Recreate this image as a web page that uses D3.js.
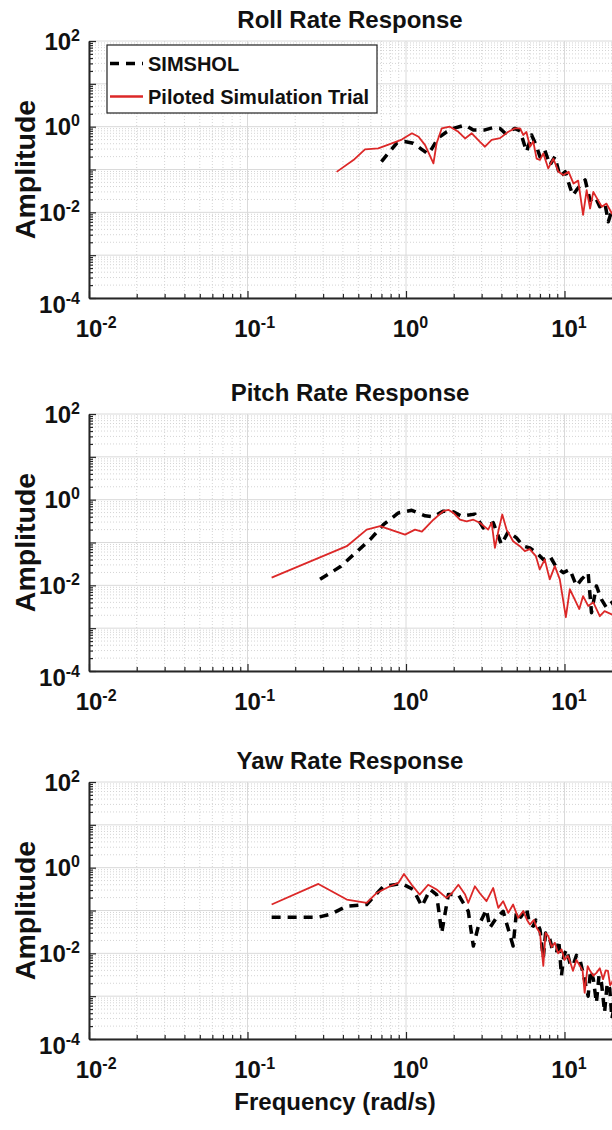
<!DOCTYPE html>
<html>
<head>
<meta charset="utf-8">
<script src="https://cdn.jsdelivr.net/npm/d3@7/dist/d3.min.js"></script>
<style>
  body { margin: 0; background: #fff; }
  svg { display: block; }
  text { font-family: "Liberation Sans", Arial, Helvetica, sans-serif; font-weight: bold; fill: #111; }
</style>
</head>
<body>
<svg id="chart" width="612" height="1130"></svg>
<script>
// ---- data: amplitude spectra (frequency in rad/s) ----
const panelTitles = ["Roll Rate Response", "Pitch Rate Response", "Yaw Rate Response"];
const seriesNames = ["SIMSHOL", "Piloted Simulation Trial"];

const rollSimFreq = [0.70, 0.80, 0.873, 0.98, 1.11, 1.25, 1.38, 1.45, 1.60, 1.81, 1.99, 2.36, 2.66, 3.15, 3.55, 3.92, 4.22, 4.87, 5.24, 5.77, 6.2, 6.6, 7.0, 7.5, 8.1, 8.7, 9.37, 10.1, 10.8, 11.3, 11.9, 12.7, 13.5, 14.5, 15.6, 16.7, 18.0, 18.9, 19.9, 21];
const rollSimAmp  = [0.152, 0.28, 0.41, 0.45, 0.41, 0.30, 0.23, 0.30, 0.55, 0.76, 0.91, 1.09, 0.84, 0.84, 0.95, 0.91, 0.70, 0.91, 0.80, 0.26, 0.64, 0.38, 0.20, 0.285, 0.127, 0.20, 0.068, 0.089, 0.040, 0.025, 0.033, 0.045, 0.057, 0.019, 0.023, 0.0135, 0.016, 0.006, 0.0113, 0.008];
const rollPilotFreq = [0.365, 0.466, 0.551, 0.668, 0.83, 0.94, 1.09, 1.20, 1.32, 1.49, 1.56, 1.68, 1.89, 2.14, 2.36, 2.6, 2.93, 3.15, 3.47, 3.92, 4.42, 4.87, 5.24, 5.5, 5.75, 6.06, 6.35, 6.67, 7.0, 7.35, 7.9, 8.5, 9.15, 9.84, 10.6, 11.4, 12.2, 13.1, 13.8, 14.5, 15.2, 16.3, 17.2, 18.4, 19.9, 21];
const rollPilotAmp  = [0.088, 0.166, 0.295, 0.31, 0.42, 0.50, 0.70, 0.58, 0.37, 0.139, 0.41, 0.91, 1.0, 0.76, 0.53, 0.70, 0.44, 0.34, 0.49, 0.54, 0.76, 0.91, 0.91, 0.64, 0.75, 0.34, 0.45, 0.18, 0.167, 0.238, 0.106, 0.18, 0.089, 0.074, 0.089, 0.047, 0.055, 0.0087, 0.033, 0.0123, 0.03, 0.019, 0.0135, 0.016, 0.0094, 0.008];

const pitchSimFreq = [0.287, 0.384, 0.593, 0.72, 0.895, 1.086, 1.32, 1.49, 1.72, 1.99, 2.24, 2.72, 3.07, 3.55, 4.0, 4.42, 4.98, 5.5, 6.05, 6.67, 7.35, 8.09, 8.91, 9.82, 10.8, 11.9, 12.8, 14.1, 14.8, 15.9, 17.1, 18.4, 19.9, 21];
const pitchSimAmp  = [0.0138, 0.027, 0.117, 0.26, 0.49, 0.565, 0.42, 0.40, 0.54, 0.52, 0.41, 0.46, 0.22, 0.29, 0.09, 0.18, 0.128, 0.082, 0.075, 0.0575, 0.040, 0.048, 0.026, 0.0197, 0.0235, 0.0097, 0.0138, 0.0197, 0.0023, 0.0097, 0.0047, 0.003, 0.004, 0.003];
const pitchPilotFreq = [0.142, 0.423, 0.565, 0.686, 0.986, 1.14, 1.26, 1.49, 1.72, 1.85, 1.99, 2.19, 2.41, 2.66, 2.92, 3.30, 3.47, 3.64, 3.82, 4.05, 4.31, 4.74, 5.23, 5.62, 6.03, 6.6, 6.98, 7.5, 8.07, 8.69, 9.34, 10.2, 10.8, 11.6, 12.4, 13.1, 14.1, 15.2, 16.7, 17.9, 19.9, 21];
const pitchPilotAmp  = [0.0151, 0.082, 0.2, 0.24, 0.153, 0.2, 0.18, 0.34, 0.54, 0.58, 0.49, 0.34, 0.31, 0.34, 0.29, 0.20, 0.29, 0.075, 0.18, 0.45, 0.20, 0.107, 0.082, 0.063, 0.07, 0.048, 0.0235, 0.040, 0.0138, 0.028, 0.0138, 0.0018, 0.0081, 0.0047, 0.0028, 0.0056, 0.0033, 0.004, 0.0019, 0.0025, 0.0021, 0.002];

const yawSimFreq = [0.142, 0.28, 0.332, 0.423, 0.565, 0.72, 0.94, 1.11, 1.26, 1.42, 1.56, 1.68, 1.85, 2.14, 2.47, 2.66, 2.86, 3.22, 3.38, 3.72, 4.1, 4.74, 4.98, 5.3, 5.76, 6.0, 6.35, 6.6, 7.0, 7.35, 7.6, 8.09, 8.4, 8.91, 9.2, 9.57, 9.9, 10.3, 10.8, 11.3, 11.9, 12.5, 13.2, 14.1, 14.6, 15.2, 15.9, 16.5, 17.1, 17.9, 18.6, 19.3, 19.9, 21];
const yawSimAmp  = [0.070, 0.070, 0.081, 0.126, 0.138, 0.368, 0.425, 0.31, 0.126, 0.31, 0.235, 0.030, 0.235, 0.235, 0.096, 0.0148, 0.043, 0.105, 0.0395, 0.0675, 0.096, 0.0148, 0.096, 0.07, 0.115, 0.05, 0.043, 0.06, 0.036, 0.0079, 0.03, 0.021, 0.012, 0.0104, 0.02, 0.003, 0.009, 0.0124, 0.006, 0.0051, 0.009, 0.0073, 0.003, 0.001, 0.004, 0.0025, 0.0007, 0.003, 0.0021, 0.00042, 0.002, 0.0015, 0.0003, 0.0008];
const yawPilotFreq = [0.142, 0.28, 0.423, 0.565, 0.653, 0.792, 0.895, 0.971, 1.086, 1.22, 1.38, 1.56, 1.80, 1.94, 2.14, 2.36, 2.47, 2.72, 2.93, 3.22, 3.55, 3.82, 4.1, 4.42, 4.74, 5.1, 5.5, 5.8, 6.05, 6.4, 6.67, 7.0, 7.35, 7.6, 7.9, 8.3, 8.69, 9.1, 9.57, 10.0, 10.5, 10.9, 11.3, 11.9, 12.5, 13.0, 13.4, 14.0, 14.5, 15.2, 15.9, 16.7, 17.5, 18.2, 18.8, 19.4, 19.9, 21];
const yawPilotAmp  = [0.138, 0.417, 0.18, 0.151, 0.257, 0.368, 0.44, 0.71, 0.40, 0.235, 0.40, 0.31, 0.197, 0.25, 0.40, 0.235, 0.151, 0.368, 0.25, 0.165, 0.336, 0.115, 0.165, 0.088, 0.138, 0.0675, 0.097, 0.06, 0.047, 0.06, 0.0395, 0.03, 0.0051, 0.03, 0.0253, 0.014, 0.0177, 0.01, 0.0124, 0.007, 0.0087, 0.006, 0.0039, 0.007, 0.0051, 0.004, 0.0012, 0.005, 0.0039, 0.003, 0.0035, 0.0045, 0.0025, 0.004, 0.0039, 0.0018, 0.0021, 0.003];

const xTickExponents = [-2, -1, 0, 1];
const yTickExponents = [-4, -2, 0, 2];

// ---- layout ----
const svg = d3.select("#chart");
const plotLeft = 89, decadeW = 158.5;
const plotH = 257;
const panelTops = [41, 414, 782];
const axisColor = "#262626";
const simColor = "#000000";
const pilotColor = "#dc2828";

const x = d3.scaleLog().domain([1e-2, 1e2]).range([plotLeft, plotLeft + 4 * decadeW]);

const zip = (fs, as) => fs.map((f, i) => ({ f: f, a: as[i] }));
const panelsData = [
  { sim: zip(rollSimFreq, rollSimAmp), pilot: zip(rollPilotFreq, rollPilotAmp) },
  { sim: zip(pitchSimFreq, pitchSimAmp), pilot: zip(pitchPilotFreq, pitchPilotAmp) },
  { sim: zip(yawSimFreq, yawSimAmp), pilot: zip(yawPilotFreq, yawPilotAmp) }
];

function decadeTicks(lo, hi) {
  const major = [], minor = [];
  for (let e = lo; e <= hi; e++) {
    major.push(Math.pow(10, e));
    if (e < hi) for (let k = 2; k <= 9; k++) minor.push(k * Math.pow(10, e));
  }
  return { major, minor };
}
const xt = decadeTicks(-2, 2);
const yt = decadeTicks(-4, 2);

function powLabel(sel, exp, baseSize, supSize, supDy) {
  sel.append("tspan").text("10").style("font-size", baseSize + "px");
  sel.append("tspan").text(String(exp)).attr("dy", supDy).style("font-size", supSize + "px");
}

panelsData.forEach((pd, pi) => {
  const top = panelTops[pi];
  const bottom = top + plotH;
  const y = d3.scaleLog().domain([1e-4, 1e2]).range([bottom, top]);
  const g = svg.append("g");

  const clipId = "clip" + pi;
  svg.append("clipPath").attr("id", clipId)
    .append("rect").attr("x", plotLeft).attr("y", top).attr("width", 4 * decadeW).attr("height", plotH);

  // minor grid (dotted)
  const grid = g.append("g");
  grid.selectAll(".vmin").data(xt.minor).join("line")
    .attr("x1", d => x(d)).attr("x2", d => x(d)).attr("y1", top).attr("y2", bottom)
    .attr("stroke", "#d4d4d4").attr("stroke-width", 1).attr("stroke-dasharray", "1,2");
  grid.selectAll(".hmin").data(yt.minor).join("line")
    .attr("x1", plotLeft).attr("x2", 612).attr("y1", d => y(d)).attr("y2", d => y(d))
    .attr("stroke", "#d4d4d4").attr("stroke-width", 1).attr("stroke-dasharray", "1,2");
  // major grid (solid)
  grid.selectAll(".vmaj").data(xt.major).join("line")
    .attr("x1", d => x(d)).attr("x2", d => x(d)).attr("y1", top).attr("y2", bottom)
    .attr("stroke", "#dadada").attr("stroke-width", 1);
  grid.selectAll(".hmaj").data(yt.major).join("line")
    .attr("x1", plotLeft).attr("x2", 612).attr("y1", d => y(d)).attr("y2", d => y(d))
    .attr("stroke", "#dadada").attr("stroke-width", 1);

  // curves
  const line = d3.line().x(d => x(d.f)).y(d => y(d.a));
  const curves = g.append("g").attr("clip-path", "url(#" + clipId + ")");
  curves.append("path").datum(pd.sim).attr("d", line)
    .attr("fill", "none").attr("stroke", simColor).attr("stroke-width", 3.5)
    .attr("stroke-dasharray", "9,7").attr("stroke-linejoin", "round");
  curves.append("path").datum(pd.pilot).attr("d", line)
    .attr("fill", "none").attr("stroke", pilotColor).attr("stroke-width", 1.8)
    .attr("stroke-linejoin", "round");

  // axes with inward ticks
  const xAxis = d3.axisBottom(x).tickValues(xt.major.concat(xt.minor)).tickSize(-4).tickSizeOuter(0).tickFormat("");
  const xa = g.append("g").attr("transform", `translate(0,${bottom})`).call(xAxis);
  xa.selectAll(".tick line").attr("y2", d => xt.major.includes(d) ? -7 : -4);
  const yAxis = d3.axisLeft(y).tickValues(yt.major.concat(yt.minor)).tickSize(-4).tickSizeOuter(0).tickFormat("");
  const ya = g.append("g").attr("transform", `translate(${plotLeft},0)`).call(yAxis);
  ya.selectAll(".tick line").attr("x2", d => yt.major.includes(d) ? 7 : 4);
  [xa, ya].forEach(a => {
    a.select(".domain").attr("stroke", axisColor).attr("stroke-width", 2);
    a.selectAll(".tick line").attr("stroke", axisColor).attr("stroke-width", 1.2);
  });

  // x tick labels: "10" centred on the tick, exponent raised
  xTickExponents.forEach(e => {
    const t = g.append("text").attr("y", bottom + 39);
    powLabel(t, e, 24, 16, -9);
    const baseW = t.select("tspan").node().getComputedTextLength();
    t.attr("x", x(Math.pow(10, e)) - baseW / 2);
  });
  // y tick labels
  yTickExponents.forEach((e, i) => {
    const t = g.append("text").attr("x", plotLeft - 9)
      .attr("y", y(Math.pow(10, e)) + 8.5 + (i === 0 ? 6.5 : 0))
      .attr("text-anchor", "end");
    powLabel(t, e, 24, 16, -9);
  });

  // title and y label
  g.append("text").attr("x", 350).attr("y", top - 13).attr("text-anchor", "middle")
    .style("font-size", "24px").text(panelTitles[pi]);
  g.append("text").attr("transform", `translate(35,${top + plotH / 2}) rotate(-90)`)
    .attr("text-anchor", "middle").style("font-size", "28.5px").text("Amplitude");
});

// x label under the last panel
svg.append("text").attr("x", 335).attr("y", 1110).attr("text-anchor", "middle")
  .style("font-size", "24px").text("Frequency (rad/s)");

// legend in the first panel
const lg = svg.append("g");
lg.append("rect").attr("x", 107).attr("y", 45).attr("width", 270).attr("height", 68)
  .attr("fill", "#fff").attr("stroke", "#222").attr("stroke-width", 1.2);
const legendRows = [
  { name: seriesNames[0], color: simColor, dash: "9,7", w: 3.5, cy: 63.5 },
  { name: seriesNames[1], color: pilotColor, dash: null, w: 2.5, cy: 96.5 }
];
legendRows.forEach(r => {
  lg.append("line").attr("x1", 110).attr("x2", 143).attr("y1", r.cy).attr("y2", r.cy)
    .attr("stroke", r.color).attr("stroke-width", r.w).attr("stroke-dasharray", r.dash);
  lg.append("text").attr("x", 148).attr("y", r.cy + 7.2).style("font-size", "20px").text(r.name);
});
</script>
</body>
</html>
